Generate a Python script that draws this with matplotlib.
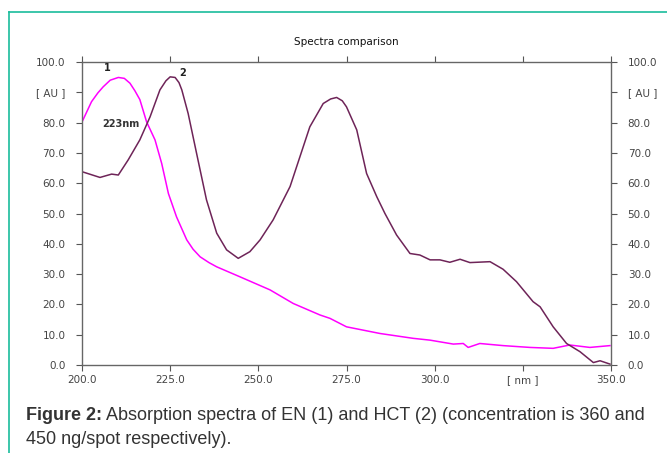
import matplotlib
matplotlib.use('Agg')
from matplotlib import pyplot as plt
from matplotlib.lines import Line2D

# spectrum 1 (EN), magenta
wl1 = [200, 202.7, 204.5, 206, 208, 210.3, 212, 213.6, 215, 216.4, 218.3, 220.7, 222.6,
       224.5, 226.8, 229.7, 231.5, 233.5, 236, 238.2, 244.8, 253.3, 259.9, 267.5, 270.3,
       275, 284.5, 293.9, 298.7, 305.3, 308.1, 309.5, 312.8, 319.4, 327, 333.6, 338.3,
       344, 349.7]
abs1 = [80.2, 86.9, 89.8, 91.8, 94, 94.9, 94.6, 93, 90.5, 87.6, 80.3, 74.3, 66.5,
        56.6, 48.9, 41.3, 38.2, 35.7, 33.8, 32.4, 29.1, 24.8, 20.3, 16.5, 15.4,
        12.6, 10.4, 8.8, 8.2, 6.9, 7.1, 5.8, 7.1, 6.4, 5.8, 5.5, 6.6,
        5.8, 6.4]

# spectrum 2 (HCT), dark purple
wl2 = [200, 205.1, 208.4, 210.3, 213.1, 216.4, 219.3, 222.1, 223.8, 225, 226.4, 227.5,
       228.3, 230.1, 232.5, 235.3, 238.2, 241, 244.3, 247.6, 250.5, 254.2, 259, 264.6,
       268.4, 270.5, 272.2, 273.8, 275, 277.9, 280.7, 283.6, 285.9, 289.2, 293, 295.8,
       298.7, 301.5, 304.3, 307.2, 310, 315.7, 319.4, 323.2, 327.9, 329.9, 333.6, 337.4,
       341.2, 345, 346.9, 349.7]
abs2 = [63.8, 61.9, 63, 62.7, 67.7, 74.3, 81.9, 90.8, 93.8, 95.1, 94.9, 93.2,
        90.8, 83, 69.8, 54.5, 43.5, 38, 35.2, 37.4, 41.3, 47.9, 58.9, 78.6,
        86.3, 87.8, 88.3, 87.2, 85.2, 77.6, 63.2, 55.5, 50, 42.9, 36.8, 36.3,
        34.7, 34.7, 33.9, 34.9, 33.8, 34.1, 31.6, 27.5, 20.9, 19.2, 12.6, 7.1,
        4.4, 0.8, 1.4, 0.3]

xticks = [200, 225, 250, 275, 300, 325, 350]
xlabels = ['200.0', '225.0', '250.0', '275.0', '300.0', '[ nm ]', '350.0']
yticks = [0, 10, 20, 30, 40, 50, 60, 70, 80, 90, 100]
ylabels = ['0.0', '10.0', '20.0', '30.0', '40.0', '50.0', '60.0', '70.0', '80.0', '[ AU ]', '100.0']

fig = plt.figure(figsize=(6.67, 4.53), dpi=100)
ax = fig.add_axes([82/667, 1 - 365/453, (611-82)/667, (365-62)/453])

ax.plot(wl1, abs1, color='#ff00ff', lw=1.1)
ax.plot(wl2, abs2, color='#6e2458', lw=1.1)

ax.set_xlim(200, 350)
ax.set_ylim(0, 100)
ax.set_xticks(xticks)
ax.set_xticklabels(xlabels)
ax.set_yticks(yticks)
ax.set_yticklabels(ylabels)
ax.tick_params(axis='both', direction='out', length=4, width=0.8, color='#555555',
               labelsize=7.5, labelcolor='#444444',
               top=True, right=True, labelright=True)
ax.tick_params(axis='y', pad=8)
ax.tick_params(axis='x', pad=3)
for s in ax.spines.values():
    s.set_color('#666666')
    s.set_linewidth(1.0)

ax.set_title('Spectra comparison', fontsize=7.5, color='#111111', pad=12)

ax.text(207.3, 98, '1', fontsize=7, fontweight='bold', color='#222222', ha='center', va='center')
ax.text(228.4, 96.5, '2', fontsize=7, fontweight='bold', color='#222222', ha='center', va='center')
ax.text(211, 79.5, '223nm', fontsize=7, fontweight='bold', color='#333333', ha='center', va='center')

# teal frame lines
fig.add_artist(Line2D([9/667, 1], [1 - 12/453, 1 - 12/453], color='#1abc9c', lw=1.2))
fig.add_artist(Line2D([9/667, 9/667], [0, 1 - 12/453], color='#1abc9c', lw=1.2))

# caption
cap_font = ['Liberation Sans', 'DejaVu Sans']
t1 = fig.text(26/667, 1 - 415/453, 'Figure 2:', fontsize=13, fontweight='bold',
              color='#333333', va='center', family=cap_font)
fig.canvas.draw()
bb = t1.get_window_extent()
fig.text(bb.x1/667 + 4/667, 1 - 415/453,
         'Absorption spectra of EN (1) and HCT (2) (concentration is 360 and',
         fontsize=13, color='#333333', va='center', family=cap_font)
fig.text(26/667, 1 - 440/453, '450 ng/spot respectively).', fontsize=13,
         color='#333333', va='center', family=cap_font)

plt.savefig('out.png', dpi=100)
